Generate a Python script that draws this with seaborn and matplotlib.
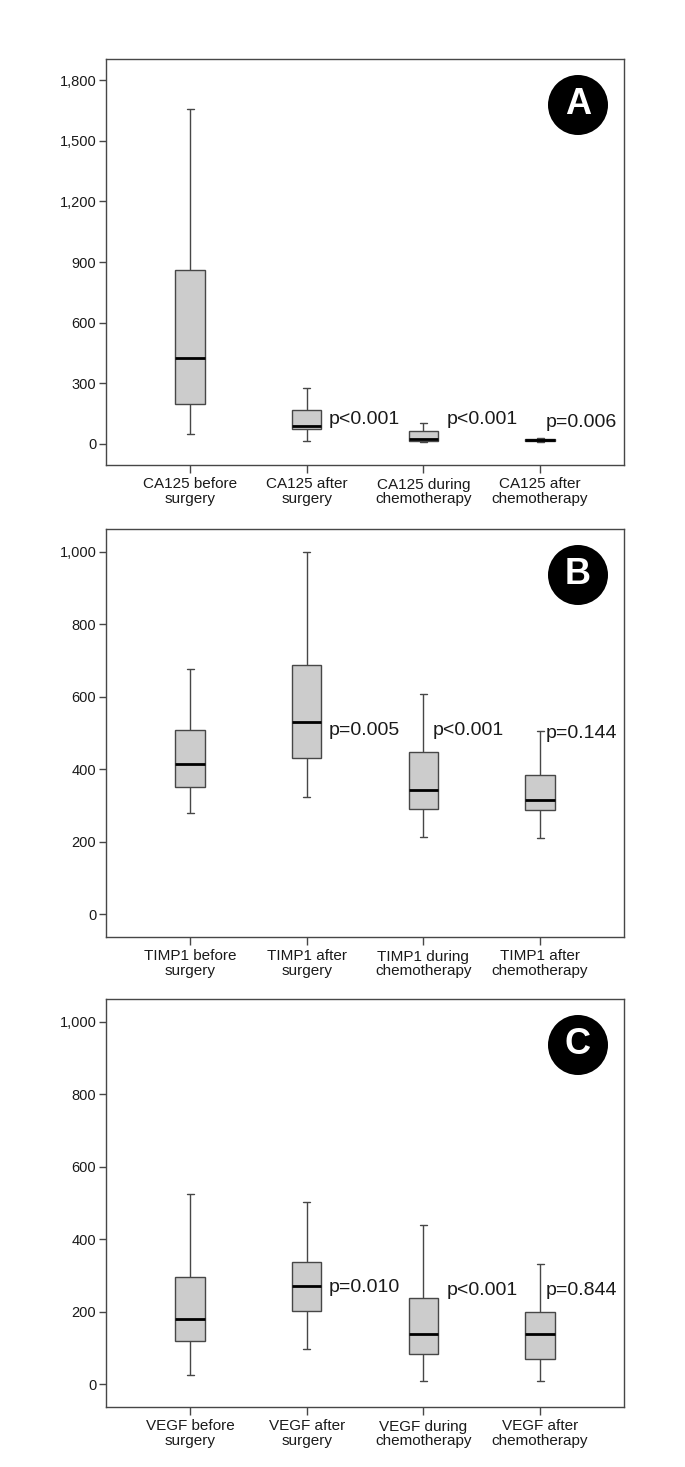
import matplotlib
matplotlib.use("Agg")
import matplotlib.pyplot as plt
import matplotlib.patches as mpatches
from matplotlib.ticker import StrMethodFormatter
import numpy as np
import pandas as pd
import seaborn as sns

# five-number summaries: [low whisker, Q1, median, Q3, high whisker]
stages = ["before\nsurgery", "after\nsurgery", "during\nchemotherapy", "after\nchemotherapy"]

ca125_stats = [
    [47, 195, 426, 861, 1657],
    [16, 75, 88, 165, 275],
    [7, 16, 23, 61, 105],
    [7, 12, 20, 25, 31],
]
timp1_stats = [
    [280, 352, 415, 507, 678],
    [323, 430, 529, 687, 1000],
    [214, 290, 344, 448, 607],
    [209, 288, 314, 383, 505],
]
vegf_stats = [
    [24, 120, 179, 297, 526],
    [96, 202, 272, 337, 504],
    [10, 84, 139, 239, 438],
    [10, 70, 139, 199, 331],
]

ca125_p = ["p<0.001", "p<0.001", "p=0.006"]
timp1_p = ["p=0.005", "p<0.001", "p=0.144"]
vegf_p = ["p=0.010", "p<0.001", "p=0.844"]

# p label anchors (x in category units, y in data units)
ca125_p_pos = [(1.19, 118), (2.20, 121), (3.05, 106)]
timp1_p_pos = [(1.19, 508), (2.08, 508), (3.05, 499)]
vegf_p_pos = [(1.19, 267), (2.20, 258), (3.05, 258)]

sns.set_theme(style="white")
plt.rcParams["font.family"] = ["Liberation Sans", "DejaVu Sans"]

panels = [
    ("CA125", ca125_stats, ca125_p, ca125_p_pos, (-105, 1905), [0, 300, 600, 900, 1200, 1500, 1800], "A"),
    ("TIMP1", timp1_stats, timp1_p, timp1_p_pos, (-63, 1063), [0, 200, 400, 600, 800, 1000], "B"),
    ("VEGF", vegf_stats, vegf_p, vegf_p_pos, (-63, 1063), [0, 200, 400, 600, 800, 1000], "C"),
]

W, H = 685, 1467
fig = plt.figure(figsize=(W / 100, H / 100), dpi=100)
left, right = 106, 624
tops = [59, 529, 999]
bottoms = [465, 937, 1407]

edge = "#474747"
for (name, stats, plabels, ppos, ylim, yticks, letter), top, bot in zip(panels, tops, bottoms):
    ax = fig.add_axes([left / W, 1 - bot / H, (right - left) / W, (bot - top) / H])
    labels = [f"{name} {s}" for s in stages]
    rows = []
    for lab, vals in zip(labels, stats):
        for v in vals:
            rows.append({"group": lab, "value": v})
    df = pd.DataFrame(rows)
    sns.boxplot(
        data=df, x="group", y="value", order=labels, ax=ax,
        whis=(0, 100), width=0.25, color="#cccccc", linecolor=edge, linewidth=1.0,
        saturation=1, showfliers=False,
        medianprops={"color": "black", "linewidth": 2.0},
        capwidths=0.06,
    )
    ax.set_xlim(-0.72, 3.72)
    ax.set_ylim(*ylim)
    ax.set_yticks(yticks)
    ax.yaxis.set_major_formatter(StrMethodFormatter("{x:,.0f}"))
    ax.set_xlabel("")
    ax.set_ylabel("")
    for sp in ax.spines.values():
        sp.set_visible(True)
        sp.set_color(edge)
        sp.set_linewidth(1.0)
    ax.tick_params(axis="both", which="major", direction="out", length=5, width=1.0,
                   color=edge, labelsize=10.5, labelcolor="#1a1a1a", pad=2)
    ax.tick_params(axis="x", length=6, pad=3, labelsize=11)
    ax.tick_params(left=True, bottom=True)
    for lab in ax.get_xticklabels():
        lab.set_linespacing(1.0)

    for txt, (px, py) in zip(plabels, ppos):
        ax.text(px, py, txt, ha="left", va="center", fontsize=14, color="#1a1a1a")

    # letter badge
    cx, cy = 1 - 46 / (right - left), 1 - 46 / (bot - top)
    ax.add_patch(mpatches.Ellipse((cx, cy), 60 / (right - left), 60 / (bot - top),
                                  transform=ax.transAxes, facecolor="black",
                                  edgecolor="none", zorder=5))
    ax.text(cx, cy, letter, transform=ax.transAxes, ha="center", va="center",
            fontsize=26, fontweight="bold", color="white", zorder=6)

fig.savefig("out.png", dpi=100)
